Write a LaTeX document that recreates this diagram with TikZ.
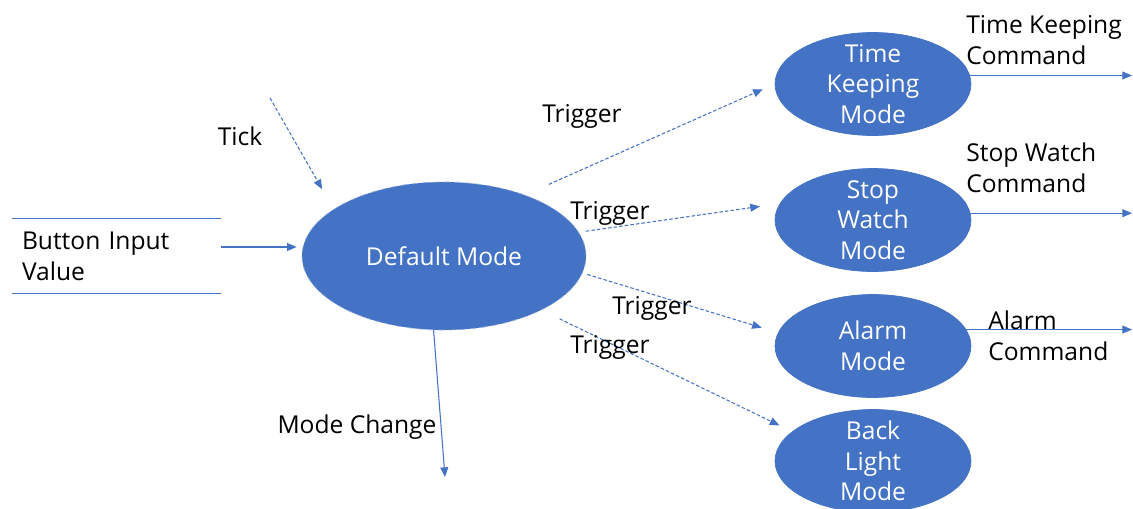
\documentclass[tikz,border=0pt]{standalone}
\usepackage{fontspec}
\setmainfont{Open Sans}
\usetikzlibrary{shapes.geometric,positioning,calc,arrows.meta}
\definecolor{modeblue}{HTML}{4472C4}
\definecolor{modeedge}{HTML}{8FAADC}
\definecolor{flowline}{HTML}{4472C4}
\definecolor{textmain}{HTML}{000000}

\begin{document}
\begin{tikzpicture}[
    x=0.02cm, y=-0.02cm,
    modebox/.style={ellipse, fill=modeblue, draw=modeblue, text=white,
                 minimum width=3.92cm, minimum height=2.06cm, align=center,
                 inner xsep=0pt, inner ysep=-8pt, font=\fontsize{14}{17.5}\selectfont},
    flowlabel/.style={font=\fontsize{14}{17.5}\selectfont, text=textmain,
                 align=left, inner sep=0pt},
    flow/.style={draw=flowline, line width=0.6pt, -{Triangle[length=5.5pt,width=4.5pt]}},
    trigger/.style={flow, dash pattern=on 2pt off 1.2pt},
  ]
  \path[use as bounding box] (0,0) rectangle (1133,508);

  % modes
  \node[modebox, minimum width=5.68cm, minimum height=2.96cm, draw=modeedge, dashed] (dm) at (444,256) {Default Mode};
  \node[modebox] (tk) at (873,84)  {Time\\Keeping\\Mode};
  \node[modebox] (sw) at (873,220) {Stop\\Watch\\Mode};
  \node[modebox] (al) at (873,346) {Alarm\\Mode};
  \node[modebox] (bl) at (873,461) {Back\\Light\\Mode};

  % input store
  \node[flowlabel, minimum width=4.18cm, minimum height=1.48cm, inner xsep=0.2cm,
        text width=3.78cm] (store) at (116.5,256) {Button Input\\Value};
  \draw[flowline, line width=0.6pt] (store.north west) -- (store.north east);
  \draw[flowline, line width=0.6pt] (store.south west) -- (store.south east);
  \draw[flow, shorten >=0.1cm] ([yshift=0.18cm]store.east) -- ([yshift=0.18cm]store.east -| dm.west);

  % tick
  \coordinate (tickfrom) at (270,98);
  \node[flowlabel] (ticklbl) at (240,136) {Tick};
  \draw[trigger, shorten >=0.46cm] (tickfrom) -- (dm.157);

  % triggers
  \draw[trigger, shorten <=0.52cm, shorten >=0.26cm] (dm.37) -- (tk.west);
  \draw[trigger, shorten <=0.14cm, shorten >=0.4cm] (dm.10) -- (sw.170);
  \draw[trigger, shorten <=0.1cm, shorten >=0.34cm] (dm.-7) -- (al.172);
  \draw[trigger, shorten <=0.4cm, shorten >=0.28cm] (dm.-29) -- (bl.160);
  \node[flowlabel] (trg1) at (582,116) {Trigger};
  \node[flowlabel] (trg2) at (610,213) {Trigger};
  \node[flowlabel] (trg3) at (652,308) {Trigger};
  \node[flowlabel] (trg4) at (610,347) {Trigger};

  % mode change
  \coordinate (mcend) at (445,477);
  \draw[flow] (dm.-98) -- (mcend);
  \node[flowlabel] (mclbl) at (357,427) {Mode Change};

  % commands
  \coordinate (outedge) at (1132,0);
  \draw[flow] (tk.5) -- (tk.5 -| outedge);
  \node[flowlabel, anchor=west] (tkcmd) at (966,40) {Time Keeping\\Command};
  \draw[flow] (sw.4) -- (sw.4 -| outedge);
  \node[flowlabel, anchor=west] (swcmd) at (966,168) {Stop Watch\\Command};
  \draw[flow] (al.10) -- (al.10 -| outedge);
  \node[flowlabel, anchor=west] (alcmd) at (988,336) {Alarm\\Command};
\end{tikzpicture}
\end{document}
